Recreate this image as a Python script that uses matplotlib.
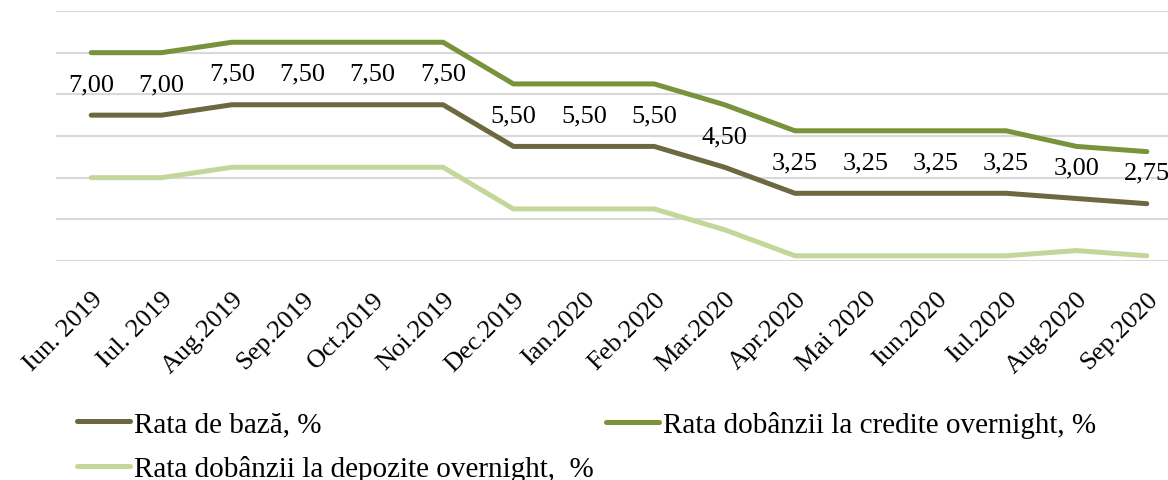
import numpy as np
import matplotlib
matplotlib.use('Agg')
import matplotlib.pyplot as plt

luni = ['Iun. 2019', 'Iul. 2019', 'Aug.2019', 'Sep.2019', 'Oct.2019', 'Noi.2019',
        'Dec.2019', 'Ian.2020', 'Feb.2020', 'Mar.2020', 'Apr.2020', 'Mai 2020',
        'Iun.2020', 'Iul.2020', 'Aug.2020', 'Sep.2020']
rata_baza = [7.00, 7.00, 7.50, 7.50, 7.50, 7.50, 5.50, 5.50, 5.50, 4.50,
             3.25, 3.25, 3.25, 3.25, 3.00, 2.75]
rata_credite = [10.00, 10.00, 10.50, 10.50, 10.50, 10.50, 8.50, 8.50, 8.50, 7.50,
                6.25, 6.25, 6.25, 6.25, 5.50, 5.25]
rata_depozite = [4.00, 4.00, 4.50, 4.50, 4.50, 4.50, 2.50, 2.50, 2.50, 1.50,
                 0.25, 0.25, 0.25, 0.25, 0.50, 0.25]

plt.rcParams['font.family'] = ['Liberation Serif', 'DejaVu Serif']

c_baza = '#6E6840'
c_cred = '#77933C'
c_dep = '#C4D79B'

fig = plt.figure(figsize=(11.68, 4.81), dpi=100)
W, H = 1168, 481
ax = fig.add_axes([56 / W, 1 - 262 / H, (1182 - 56) / W, 250 / H])

x = np.arange(len(luni))
l1, = ax.plot(x, rata_baza, color=c_baza, lw=3.6, solid_capstyle='round')
l2, = ax.plot(x, rata_credite, color=c_cred, lw=3.6, solid_capstyle='round')
l3, = ax.plot(x, rata_depozite, color=c_dep, lw=3.6, solid_capstyle='round')

for i, v in enumerate(rata_baza):
    ax.annotate(('%.2f' % v).replace('.', ','), (x[i], v), xytext=(0, 31),
                textcoords='offset pixels', ha='center', va='center',
                fontsize=19, color='black', annotation_clip=False)

ax.set_xlim(-0.5, len(luni) - 0.5)
ax.set_ylim(0, 12)
ax.set_yticks(np.arange(0, 13, 2))
ax.set_yticklabels([])
ax.grid(axis='y', color='#d9d9d9', lw=1.5)
ax.set_axisbelow(True)
for s in ax.spines.values():
    s.set_visible(False)
ax.tick_params(length=0)
ax.set_xticks(x)
ax.set_xticklabels(luni, rotation=45, ha='right', rotation_mode='anchor',
                   fontsize=19)
ax.tick_params(axis='x', pad=19)

leg_kw = dict(frameon=False, fontsize=21, handlelength=1.8, handletextpad=0.15,
              borderaxespad=0, borderpad=0, labelspacing=0.6, loc='upper left')
fig.legend([l1, l3], ['Rata de bază, %', 'Rata dobânzii la depozite overnight,  %'],
           bbox_to_anchor=(77 / W, 1 - 412 / H), **leg_kw)
fig.legend([l2], ['Rata dobânzii la credite overnight, %'],
           bbox_to_anchor=(606 / W, 1 - 412 / H), **leg_kw)

fig.savefig('out.png', dpi=100)
